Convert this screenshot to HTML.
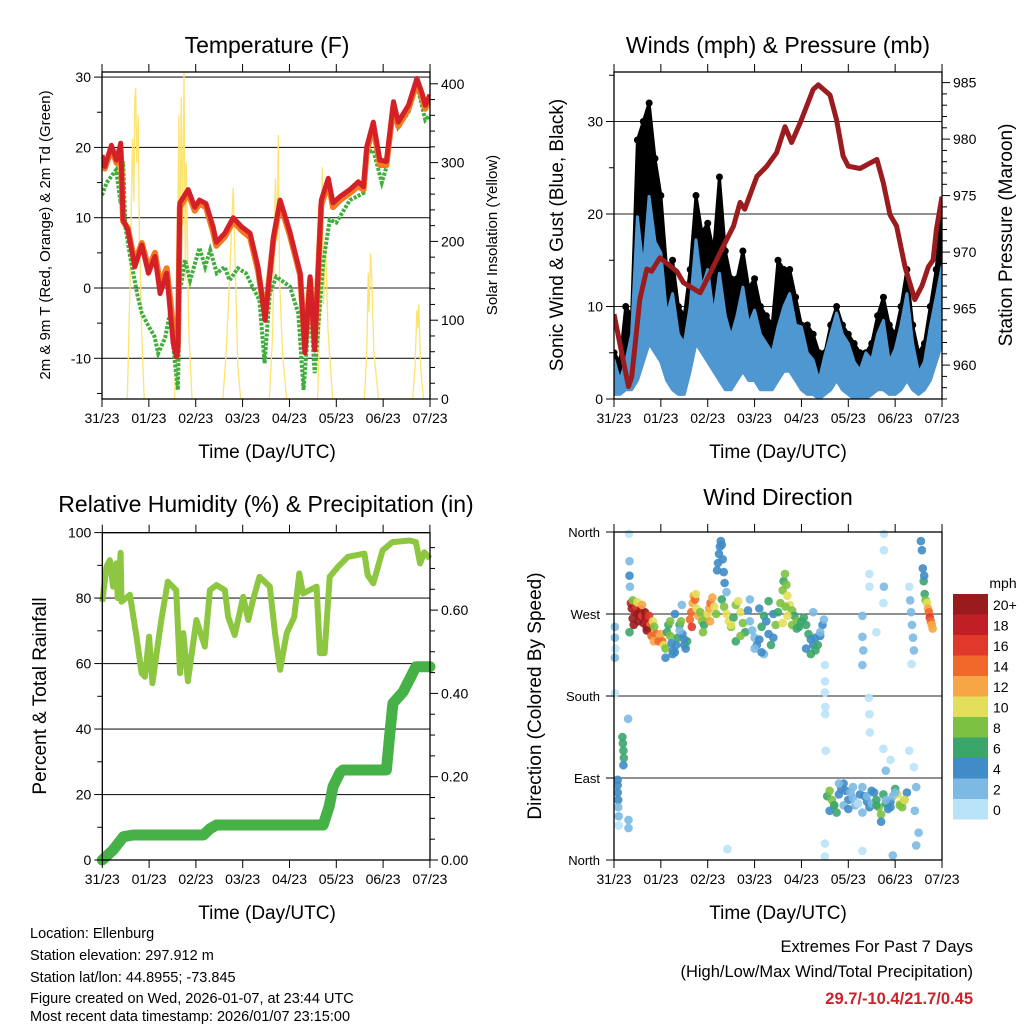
<!DOCTYPE html>
<html><head><meta charset="utf-8">
<style>
html,body{margin:0;padding:0;background:#fff;}
svg{display:block;font-family:"Liberation Sans",Arial,sans-serif;}
</style></head>
<body>
<svg id="fig" width="1024" height="1024" viewBox="0 0 1024 1024" xmlns="http://www.w3.org/2000/svg">
<rect width="1024" height="1024" fill="#fff"/>
<text x="267" y="53" font-size="23" text-anchor="middle">Temperature (F)</text>
<text x="778" y="53" font-size="23" text-anchor="middle">Winds (mph) &amp; Pressure (mb)</text>
<text x="266" y="512" font-size="23" text-anchor="middle">Relative Humidity (%) &amp; Precipitation (in)</text>
<text x="778" y="505" font-size="23" text-anchor="middle">Wind Direction</text>
<text x="267" y="458" font-size="19" text-anchor="middle">Time (Day/UTC)</text>
<text x="778" y="458" font-size="19" text-anchor="middle">Time (Day/UTC)</text>
<text x="267" y="919" font-size="19" text-anchor="middle">Time (Day/UTC)</text>
<text x="778" y="919" font-size="19" text-anchor="middle">Time (Day/UTC)</text>
<text transform="translate(50,235) rotate(-90)" font-size="15" text-anchor="middle">2m &amp; 9m T (Red, Orange) &amp; 2m Td (Green)</text>
<text transform="translate(497,235) rotate(-90)" font-size="15" text-anchor="middle">Solar Insolation (Yellow)</text>
<text transform="translate(563,235) rotate(-90)" font-size="19" text-anchor="middle">Sonic Wind &amp; Gust (Blue, Black)</text>
<text transform="translate(1012,235) rotate(-90)" font-size="19" text-anchor="middle">Station Pressure (Maroon)</text>
<text transform="translate(46,696) rotate(-90)" font-size="19" text-anchor="middle">Percent &amp; Total Rainfall</text>
<text transform="translate(541,696) rotate(-90)" font-size="19" text-anchor="middle">Direction (Colored By Speed)</text>
<g font-size="14.5">
<text x="30" y="938">Location: Ellenburg</text>
<text x="30" y="960">Station elevation: 297.912 m</text>
<text x="30" y="982">Station lat/lon: 44.8955; -73.845</text>
<text x="30" y="1003">Figure created on Wed, 2026-01-07, at 23:44 UTC</text>
<text x="30" y="1021">Most recent data timestamp: 2026/01/07 23:15:00</text>
</g>
<text x="973" y="952" font-size="16.5" text-anchor="end">Extremes For Past 7 Days</text>
<text x="973" y="977" font-size="16.5" text-anchor="end">(High/Low/Max Wind/Total Precipitation)</text>
<text x="973" y="1004" font-size="16.5" font-weight="bold" fill="#c8242b" text-anchor="end">29.7/-10.4/21.7/0.45</text>
</svg>
<script>
// ---- Temperature panel data ----
const tempT=[0,0.06,0.2,0.31,0.4,0.45,0.55,0.7,0.85,0.99,1.13,1.24,1.38,1.52,1.59,1.62,1.66,1.84,1.98,2.08,2.22,2.37,2.44,2.62,2.8,2.98,3.16,3.33,3.48,3.66,3.8,4.01,4.23,4.33,4.44,4.54,4.68,4.83,4.93,5.08,5.29,5.47,5.58,5.65,5.79,5.93,6.07,6.22,6.32,6.54,6.72,6.83,6.9,7.0];
const temp9m=[18.9,17.3,20.3,18.2,20.6,9.7,8.3,3.0,6.1,2.1,4.5,-0.8,2.1,-7.9,-9.8,-9,12.1,14,11.5,12.5,12,8.7,6.5,7.8,10,8.7,7.8,3,-4.6,7.3,12.5,8,2.1,-9.2,1.6,-8.8,12.5,15.6,12.1,13,14,15.1,14.4,20.1,23.6,18.2,18,26.5,23.6,26,29.8,27.7,26,27.5];
const temp2m=[18.5,17,19.8,17.8,19.5,9.5,8.5,3.6,6.4,2.8,5,0.5,2.8,-5.5,-8.5,-8,11.5,13.5,11,12,11.5,8,6,7.3,9.5,8.2,7.2,2.5,-4,7,12,7.5,1.8,-8.5,1.2,-8,11.8,15,11.5,12.5,13.5,14.5,14,19.5,23,17.5,17.5,26,23,25.5,29.3,27,25.5,27];
const dewT=[0,0.1,0.3,0.4,0.45,0.5,0.6,0.75,0.85,1.0,1.12,1.2,1.35,1.45,1.55,1.62,1.66,1.77,1.88,2.08,2.2,2.31,2.45,2.62,2.72,2.9,3.07,3.21,3.36,3.47,3.58,3.72,4.01,4.19,4.3,4.44,4.54,4.72,4.86,5.0,5.29,5.58,5.65,5.79,5.97,6.07,6.22,6.32,6.54,6.72,6.9,7.0];
const dewV=[13.2,15,16.8,12,18,8.7,4.5,-0.8,-3.6,-5.5,-6.9,-9.3,-7,-3.6,-10.2,-14.5,-0.7,4,1.1,5.7,3,5.4,2.1,3,1.1,2.8,2.1,0.2,-1.7,-10.7,-0.7,1.6,0.2,-3.6,-14.5,-2.2,-12.1,3.6,9.7,9.3,12.5,13.5,19.2,19.6,15,17.2,25.8,22.9,25,28.9,23.9,24.6];
const solarT=[0.54,0.6,0.65,0.68,0.7,0.72,0.74,0.77,0.8,0.85,0.9,1.55,1.6,1.64,1.66,1.69,1.72,1.75,1.78,1.8,1.85,1.92,2.58,2.65,2.72,2.8,2.85,2.9,2.96,3.57,3.64,3.7,3.74,3.76,3.79,3.85,3.94,4.6,4.66,4.7,4.73,4.77,4.82,4.92,5.6,5.65,5.68,5.7,5.73,5.76,5.8,5.9,6.63,6.68,6.72,6.74,6.76,6.8,6.86];
const solarV=[0,150,330,250,380,395,300,360,200,80,0,0,120,360,140,383,220,415,150,300,90,0,0,60,150,268,150,40,0,0,80,280,200,335,150,60,0,0,120,294,120,200,90,0,0,60,160,110,185,150,60,0,0,40,113,90,120,40,0];
const tempTicks=[30,20,10,0,-10];
const solarTicks=[0,100,200,300,400];
const dayLabels=["31/23","01/23","02/23","03/23","04/23","05/23","06/23","07/23"];
// ---- Wind panel data ----
const windT=[0,0.125,0.25,0.375,0.5,0.625,0.75,0.875,1.0,1.125,1.25,1.375,1.5,1.625,1.75,1.875,2.0,2.125,2.25,2.375,2.5,2.625,2.75,2.875,3.0,3.125,3.25,3.375,3.5,3.625,3.75,3.875,4.0,4.125,4.25,4.375,4.5,4.625,4.75,4.875,5.0,5.125,5.25,5.375,5.5,5.625,5.75,5.875,6.0,6.125,6.25,6.375,6.5,6.625,6.75,6.875,7.0];
const windHi=[4.2,2,4,7,19.7,14,21.9,17,15.8,9,11.4,7,6,10,17.2,12,14,9,13.6,9,6.7,9,12.1,8,9.6,7,6,5,7.8,10,11.4,8,7.8,5,4.2,2,4.7,7,9.3,7,6,4,3.1,5,4.2,7,8.5,4,5.4,8,11.4,6,2.8,4,7.8,11,14.3];
const windLo=[0.5,0.5,1,1,2,4,6,5,4,2,1,0.5,0.5,3,6,5,4,3,2,1,1,2,3,2,2,1,1,1,2,3,3,2,1,0.5,0.5,0,0.5,1,2,1,0.5,0,0,0,0.5,1,1,0.5,0.5,1,2,1,0.5,1,2,4,6];
const gustHi=[5,4,10,9,28,30,32,26,22,14,15,10,9,14,22,18,19,16,24,16,13,13,16,12,13,10,9,8,15,14,14,11,8,8,7,5,5,8,10,8,7,6,5,5,6,9,11,8,7,10,14,8,5,6,10,14,21];
const presT=[0,0.31,0.38,0.55,0.7,0.8,0.98,1.34,1.48,1.84,2.12,2.33,2.55,2.69,2.79,3.05,3.26,3.47,3.65,3.79,3.97,4.25,4.36,4.61,4.75,4.89,5.0,5.25,5.61,5.75,5.89,6.03,6.21,6.42,6.57,6.71,6.81,6.88,7.0];
const presV=[964.5,958.1,959.0,965.8,968.5,968.3,969.5,968.3,967.3,966.4,968.7,970.5,972.3,974.4,973.8,976.7,977.6,978.8,981.1,979.7,981.4,984.4,984.8,983.9,981.7,978.5,977.6,977.4,978.2,976.1,973.3,972.3,968.7,965.8,967.0,968.7,969.3,972.0,974.9];
const windTicks=[0,10,20,30];
const presTicks=[960,965,970,975,980,985];
// ---- RH panel data ----
const rhT=[0,0.09,0.16,0.23,0.3,0.33,0.39,0.41,0.59,0.73,0.84,0.91,1.0,1.07,1.16,1.26,1.4,1.58,1.66,1.73,1.83,2.01,2.19,2.3,2.44,2.62,2.69,2.83,3.01,3.12,3.22,3.36,3.58,3.69,3.8,3.94,4.1,4.21,4.29,4.58,4.65,4.75,4.86,5.04,5.25,5.43,5.6,5.67,5.79,5.99,6.2,6.56,6.7,6.79,6.88,7.0];
const rhV=[78.9,89.6,91.6,83.5,90.6,80,93.8,78.9,81,68.2,57.1,56,68.2,54,63.2,73.3,85,82.4,57.1,69.3,54.6,73.3,65.2,82.4,84,82.4,74.2,68.7,80.4,73.3,79.4,86.5,83.5,69.3,58.1,69.3,74.2,87.5,81.4,83.5,63.2,63.2,86.5,89.6,92.6,93.1,93.6,87,84.5,94.6,97.1,97.6,97.1,90.6,94,92.1];
const precT=[0,0.23,0.45,0.66,2.16,2.3,2.44,4.72,4.85,4.93,5.08,5.14,6.07,6.14,6.21,6.43,6.7,7.0];
const precV=[0,0.024,0.056,0.06,0.06,0.075,0.084,0.084,0.13,0.176,0.21,0.216,0.216,0.3,0.376,0.404,0.464,0.464];
const rhTicks=[0,20,40,60,80,100];
const precTicks=[0,0.2,0.4,0.6];
const precTickLabels=["0.00","0.20","0.40","0.60"];
// ---- Wind direction data ----
const dirT=[0.02,0.02,0.03,0.02,0.02,0.08,0.08,0.09,0.09,0.1,0.1,0.08,0.18,0.19,0.2,0.21,0.2,0.3,0.32,0.33,0.33,0.34,0.33,0.31,0.31,
0.36,0.38,0.4,0.42,0.45,0.48,0.5,0.52,0.55,0.58,0.6,0.63,0.66,0.68,0.7,0.72,0.75,0.78,0.8,0.83,0.86,0.9,0.93,0.4,0.5,0.6,0.7,0.8,0.85,0.95,
1.0,1.03,1.06,1.1,1.13,1.16,1.2,1.23,1.26,1.3,1.33,1.36,1.4,1.43,1.46,1.5,1.53,1.56,1.1,1.2,1.3,1.4,1.5,1.25,1.45,
1.62,1.65,1.68,1.7,1.73,1.76,1.8,1.84,1.88,1.92,1.96,2.0,2.03,2.06,2.1,2.14,2.18,1.66,1.75,1.9,2.05,
2.2,2.22,2.24,2.26,2.28,2.3,2.32,2.34,2.36,2.3,2.35,2.4,2.45,2.5,2.55,2.6,2.65,2.7,2.75,2.8,2.4,2.5,2.6,2.7,2.42,
2.86,2.9,2.95,3.0,3.05,3.1,3.15,3.2,3.25,3.3,3.35,3.4,3.45,3.0,3.1,3.2,3.3,3.4,2.9,3.15,
3.5,3.55,3.6,3.62,3.65,3.68,3.7,3.75,3.8,3.85,3.9,3.95,4.0,3.6,3.7,3.8,3.9,3.66,
4.05,4.1,4.15,4.2,4.25,4.3,4.35,4.4,4.45,4.48,4.1,4.2,4.3,4.4,4.25,
4.5,4.5,4.5,4.51,4.51,4.52,4.5,4.5,
4.55,4.6,4.65,4.7,4.75,4.8,4.85,4.9,4.95,5.0,5.05,5.1,5.15,5.2,5.25,5.3,5.35,5.4,5.45,5.5,5.55,5.6,5.65,5.7,5.75,5.8,5.85,5.9,5.95,6.0,6.05,6.1,6.15,6.2,6.25,4.6,4.7,4.8,4.9,5.0,5.1,5.2,5.3,5.4,5.5,5.6,5.7,5.8,5.9,6.0,6.1,6.2,
5.3,5.3,5.32,5.3,5.45,5.45,5.44,5.45,5.46,5.6,5.76,5.76,5.76,5.75,5.75,5.8,5.9,6.3,6.32,6.34,6.36,6.38,6.4,6.35,6.3,6.4,6.45,6.42,6.5,6.45,5.3,5.95,
6.55,6.57,6.59,6.61,6.63,6.65,6.68,6.7,6.72,6.74,6.76,6.78,6.8,6.62];
const dirD=[256,244,232,222,183,82,74,66,58,48,38,88,135,128,120,112,104,155,358,328,312,300,250,44,35,
282,276,265,258,272,278,270,262,268,275,268,260,272,266,255,262,268,258,250,262,256,248,244,285,283,280,252,246,240,240,
248,240,236,232,250,258,246,238,230,228,236,244,258,262,248,236,232,240,222,262,270,252,242,226,280,
264,272,282,290,286,276,268,272,262,258,266,270,276,282,288,278,270,256,292,250,262,
318,326,336,344,350,346,330,316,304,286,278,270,262,256,266,280,284,272,260,250,294,258,240,246,12,
274,262,252,244,236,242,256,268,262,248,236,244,258,232,276,226,284,270,286,228,
272,282,296,306,314,302,290,280,274,268,262,256,262,260,268,258,254,278,
266,258,248,242,236,230,236,246,258,264,232,226,244,250,272,
214,196,184,168,160,120,18,4,
70,76,66,60,52,72,78,84,76,66,74,68,60,62,72,80,70,64,58,62,74,66,58,50,72,62,56,64,70,78,72,62,58,66,74,54,60,84,60,56,80,62,52,70,76,60,42,66,58,74,60,66,
268,245,230,214,314,300,178,160,140,250,358,340,300,282,122,98,110,300,285,272,258,244,230,215,120,102,80,54,30,16,10,5,
350,340,320,306,292,285,282,276,272,266,262,258,254,312];
const dirS=[2,2,1,2,0,4,4,4,2,2,1,4,6,6,6,6,4,2,0,2,4,2,6,2,2,
18,20,20,20,18,16,20,20,20,20,16,20,20,20,20,18,16,14,12,10,8,14,12,8,10,12,20,14,12,14,
12,14,10,8,6,6,8,4,4,4,4,6,6,8,4,4,4,6,4,8,4,2,4,4,2,
14,14,12,12,14,10,12,8,8,6,8,10,12,14,12,10,8,16,10,8,12,
4,4,4,4,4,4,4,4,4,6,8,10,10,8,6,8,10,10,8,6,2,10,6,8,0,
4,2,2,2,4,4,6,6,4,4,6,4,8,2,4,2,6,4,2,4,
6,8,8,6,8,8,10,10,8,6,8,6,6,10,10,8,6,8,
6,6,6,4,4,6,6,4,4,2,4,6,4,2,2,
0,0,0,0,0,0,0,0,
6,8,8,8,6,4,4,4,4,4,2,2,2,4,4,2,4,4,4,2,4,6,8,8,6,6,4,4,2,6,10,10,8,6,4,4,6,2,2,4,2,0,2,2,4,6,4,2,4,2,8,10,
2,2,2,2,0,0,0,0,0,0,0,0,2,0,0,2,0,0,2,2,2,2,2,0,0,0,2,2,2,2,0,2,
4,4,4,6,6,8,10,12,14,16,14,12,12,4];
const dirTicks=[0,90,180,270,360];
const dirTickLabels=["North","East","South","West","North"];
const speedBins=[0,2,4,6,8,10,12,14,16,18,20];
const speedLabels=["0","2","4","6","8","10","12","14","16","18","20+"];
const speedColors=["#b9e3f7","#7cb9e3","#3f8cc7","#3ba66b","#7dc142","#e4df5a","#f6a646","#f0692b","#e0392c","#c01f26","#9a1b1d"];

// ---- scales ----
const x1=t=>102+t*46.86, yT=v=>288-v*7.03, yS=v=>399-v*0.788;
const x2=t=>614+t*46.86, yW=v=>399-v*9.25, yP=p=>399-(p-957)*11.3;
const x3=t=>102.3+t*46.8, yR=v=>860-v*3.274, yPr=v=>860-v*416.5;
const x4=x2, yD=d=>860-d*328/360;

const NS="http://www.w3.org/2000/svg";
const svg=document.getElementById('fig');
function mk(tag,attrs,parent){const e=document.createElementNS(NS,tag);for(const k in attrs)e.setAttribute(k,attrs[k]);(parent||svg).appendChild(e);return e;}
function pathFrom(ts,vs,fx,fy){return ts.map((t,i)=>(i?'L':'M')+fx(t).toFixed(1)+','+fy(vs[i]).toFixed(1)).join('');}

function frame(name){
  const g=mk('g',{});
  
  
  return g;
}
function box(g,L,T,R,B){
  const r=mk('rect',{x:L,y:T,width:R-L,height:B-T,fill:'none',stroke:'#000','stroke-width':1.3},g);
  
  
}
function hline(g,L,R,y,name){
  const l=mk('line',{x1:L,x2:R,y1:y,y2:y,stroke:'#222','stroke-width':1.1},g);
  
  
}
function tick(g,xa,ya,xb,yb,name){
  const l=mk('line',{x1:xa,y1:ya,x2:xb,y2:yb,stroke:'#000','stroke-width':1},g);
  
  
}
function label(g,x,y,txt,anchor,name,size){
  const t=mk('text',{x:x,y:y,'font-size':size||14,'text-anchor':anchor},g);
  t.textContent=txt;
  
  
}
function xAxis(g,fx,T,B){
  dayLabels.forEach((d,k)=>{
    const x=fx(k);
    tick(g,x,B,x,B+8,'x-tick');
    tick(g,x,T,x,T-8,'x-tick-top');
    label(g,x,B+24,d,'middle','x-tick-label');
  });
}

// ===== Panel 1: Temperature =====
(function(){
  const g=frame('temperature-panel');
  const L=102,R=430,T=72,B=399;
  const clip=mk('clipPath',{id:'c1'},g);mk('rect',{x:L,y:T,width:R-L,height:B-T},clip);
  tempTicks.forEach(v=>hline(g,L,R,yT(v),'temp-gridline'));
  const pg=mk('g',{'clip-path':'url(#c1)'},g);
  const sol=mk('path',{d:pathFrom(solarT,solarV,x1,yS),fill:'none',stroke:'#fde46e','stroke-width':1.3},pg);
  
  
  const dw=mk('path',{d:pathFrom(dewT,dewV,x1,yT),fill:'none',stroke:'#3fae3a','stroke-width':4,'stroke-dasharray':'3 1.5'},pg);
  
  
  const t2=mk('path',{d:pathFrom(tempT,temp2m,x1,yT),fill:'none',stroke:'#f47a21','stroke-width':6,'stroke-linejoin':'round'},pg);
  
  
  const t9=mk('path',{d:pathFrom(tempT,temp9m,x1,yT),fill:'none',stroke:'#d42027','stroke-width':5,'stroke-linejoin':'round'},pg);
  
  
  box(g,L,T,R,B);
  xAxis(g,x1,T,B);
  for(let v=-15;v<=30;v+=5){const y=yT(v);tick(g,L,y,L-(v%10===0?8:5),y,'temp-tick');}
  tempTicks.forEach(v=>label(g,L-11,yT(v)+5,String(v),'end','temp-tick-label'));
  for(let v=0;v<=400;v+=20){const y=yS(v);tick(g,R,y,R+(v%100===0?8:5),y,'solar-tick');}
  solarTicks.forEach(v=>label(g,R+11,yS(v)+5,String(v),'start','solar-tick-label'));
})();

// ===== Panel 2: Winds & Pressure =====
(function(){
  const g=frame('wind-panel');
  const L=614,R=942,T=72,B=399;
  const clip=mk('clipPath',{id:'c2'},g);mk('rect',{x:L,y:T,width:R-L,height:B-T},clip);
  windTicks.forEach(v=>hline(g,L,R,yW(v),'wind-gridline'));
  const pg=mk('g',{'clip-path':'url(#c2)'},g);
  let d='';
  windT.forEach((t,i)=>{d+=(i?'L':'M')+x2(t).toFixed(1)+','+yW(gustHi[i]).toFixed(1);});
  for(let i=windT.length-1;i>=0;i--){d+='L'+x2(windT[i]).toFixed(1)+','+yW(windHi[i]).toFixed(1);}
  const gb=mk('path',{d:d+'Z',fill:'#000',stroke:'#000','stroke-width':3,'stroke-linejoin':'round'},pg);
  
  
  windT.forEach((t,i)=>{
    const c=mk('circle',{cx:x2(t),cy:yW(gustHi[i]),r:3.5,fill:'#000'},pg);
    
    
  });
  let d2='';
  windT.forEach((t,i)=>{d2+=(i?'L':'M')+x2(t).toFixed(1)+','+yW(windHi[i]).toFixed(1);});
  for(let i=windT.length-1;i>=0;i--){d2+='L'+x2(windT[i]).toFixed(1)+','+yW(windLo[i]).toFixed(1);}
  const wb=mk('path',{d:d2+'Z',fill:'#4f97d0',stroke:'#4f97d0','stroke-width':3,'stroke-linejoin':'round'},pg);
  
  
  const pr=mk('path',{d:pathFrom(presT,presV,x2,yP),fill:'none',stroke:'#9b1c1f','stroke-width':5,'stroke-linejoin':'round'},pg);
  
  
  box(g,L,T,R,B);
  xAxis(g,x2,T,B);
  for(let v=0;v<=35;v+=5){const y=yW(v);tick(g,L,y,L-(v%10===0?8:5),y,'wind-tick');}
  windTicks.forEach(v=>label(g,L-11,yW(v)+5,String(v),'end','wind-tick-label'));
  for(let p=957;p<=985;p+=1){const y=yP(p);tick(g,R,y,R+(p%5===0?8:5),y,'pressure-tick');}
  presTicks.forEach(v=>label(g,R+11,yP(v)+5,String(v),'start','pressure-tick-label'));
})();

// ===== Panel 3: RH & Precip =====
(function(){
  const g=frame('humidity-panel');
  const L=102.3,R=430,T=532.7,B=860;
  const clip=mk('clipPath',{id:'c3'},g);mk('rect',{x:L-6,y:T,width:R-L+12,height:B-T+6},clip);
  rhTicks.forEach(v=>hline(g,L,R,yR(v),'rh-gridline'));
  const pg=mk('g',{'clip-path':'url(#c3)'},g);
  const rh=mk('path',{d:pathFrom(rhT,rhV,x3,yR),fill:'none',stroke:'#8dc641','stroke-width':6,'stroke-linejoin':'round'},pg);
  
  
  const pc=mk('path',{d:pathFrom(precT,precV,x3,yPr),fill:'none',stroke:'#45b146','stroke-width':11,'stroke-linejoin':'round','stroke-linecap':'round'},pg);
  
  
  box(g,L,T,R,B);
  xAxis(g,x3,T,B);
  for(let v=0;v<=100;v+=10){const y=yR(v);tick(g,L,y,L-(v%20===0?8:5),y,'rh-tick');}
  rhTicks.forEach(v=>label(g,L-11,yR(v)+5,String(v),'end','rh-tick-label'));
  for(let v=0;v<=0.78;v+=0.05){const y=yPr(v);const major=Math.abs(v*5-Math.round(v*5))<1e-6;tick(g,R,y,R+(major?8:5),y,'precip-tick');}
  precTicks.forEach((v,i)=>label(g,R+11,yPr(v)+5,precTickLabels[i],'start','precip-tick-label'));
})();

// ===== Panel 4: Wind Direction =====
(function(){
  const g=frame('wind-direction-panel');
  const L=614,R=942,T=532,B=860;
  [90,180,270].forEach(v=>hline(g,L,R,yD(v),'direction-gridline'));
  const pg=mk('g',{},g);
  dirT.forEach((t,i)=>{
    let k=0;for(let j=0;j<speedBins.length;j++){if(dirS[i]>=speedBins[j])k=j;}
    const c=mk('circle',{cx:x4(t).toFixed(1),cy:yD(dirD[i]).toFixed(1),r:4.3,fill:speedColors[k],'fill-opacity':0.9},pg);
    
    
  });
  box(g,L,T,R,B);
  xAxis(g,x4,T,B);
  dirTicks.forEach((v,i)=>{const y=yD(v);tick(g,L,y,L-8,y,'direction-tick');label(g,L-14,y+5,dirTickLabels[i],'end','direction-tick-label',13);});
  const lg=mk('g',{},svg);
  
  
  label(lg,1003,588,'mph','middle','legend-title',14);
  const top=594,h=20.5;
  for(let i=0;i<speedColors.length;i++){
    const idx=speedColors.length-1-i;
    const r=mk('rect',{x:953,y:top+i*h,width:35,height:h,fill:speedColors[idx]},lg);
    
    
    label(lg,993,top+i*h+16,speedLabels[idx],'start','legend-label',14);
  }
})();
</script>
</body></html>
